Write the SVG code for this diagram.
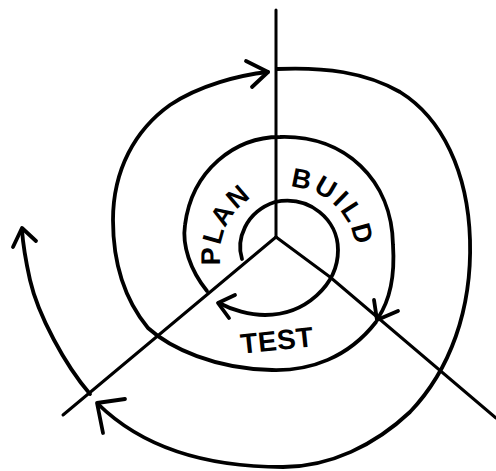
<svg xmlns="http://www.w3.org/2000/svg" width="496" height="471" viewBox="0 0 496 471">
<style>
.bg{fill:#ffffff}
.ln{fill:none;stroke:#000;stroke-width:3;stroke-linecap:round;stroke-linejoin:round}
.sp{fill:none;stroke:#000;stroke-width:3.8;stroke-linecap:round;stroke-linejoin:round}
.lbl{font-family:"Liberation Sans",Arial,sans-serif;font-weight:bold;fill:#000}
</style>
<defs>
<path id="planPath" d="M224.1,278.3 A68,68 0 0 1 264.7,191.1"/>
<path id="buildPath" d="M285.6,187.0 A68,68 0 0 1 356.0,252.6"/>
</defs>
<rect class="bg" x="0" y="0" width="496" height="471"/>
<g id="axes">
<path class="ln" d="M276,10 L276,237"/>
<path class="ln" d="M276,237 L63,415"/>
<path class="ln" d="M276,237 L330,277 L496,418"/>
</g>
<g id="connectors">
<path class="sp" d="M242,259 C236,240 245,212 275,202 C310,195 338,220 338,250 C338,285 305,315 265,315 C250,315 232,310 219,303"/>
<path class="sp" d="M235,295 L218,303 L229,318"/>
<path class="sp" d="M207,291 C190,270 182,245 185,225 C192,170 235,137 280,137 C345,135 392,180 393,245 C395,275 390,300 378,318"/>
<path class="sp" d="M374,300 L377,320 L398,311"/>
<path class="sp" d="M376,322 C348,358 310,371 272,370 C215,369 170,348 148,328 C125,300 113,265 113,220 C113,170 135,130 170,105 C200,85 240,75 268,72"/>
<path class="sp" d="M246,61 L268,72 L252,87"/>
<path class="sp" d="M277,69 C325,67 365,72 400,92 C442,118 468,172 470,240 C472,310 450,370 410,412 C375,445 330,467 283,467 C220,467 150,455 98,404"/>
<path class="sp" d="M125,399 L97,403 L103,433"/>
<path class="sp" d="M90,394 C65,365 38,315 30,280 C26,262 23,245 22,230"/>
<path class="sp" d="M13,247 L22,228 L36,241"/>
</g>
<g id="plan">
<text class="lbl" font-size="27" letter-spacing="1.5"><textPath href="#planPath" startOffset="50%" text-anchor="middle">PLAN</textPath></text>
</g>
<g id="build">
<text class="lbl" font-size="27" letter-spacing="3"><textPath href="#buildPath" startOffset="50%" text-anchor="middle">BUILD</textPath></text>
</g>
<g id="test">
<text class="lbl" font-size="28" letter-spacing="0.5" x="277" y="350" text-anchor="middle" transform="rotate(-6 277 340)">TEST</text>
</g>
</svg>
